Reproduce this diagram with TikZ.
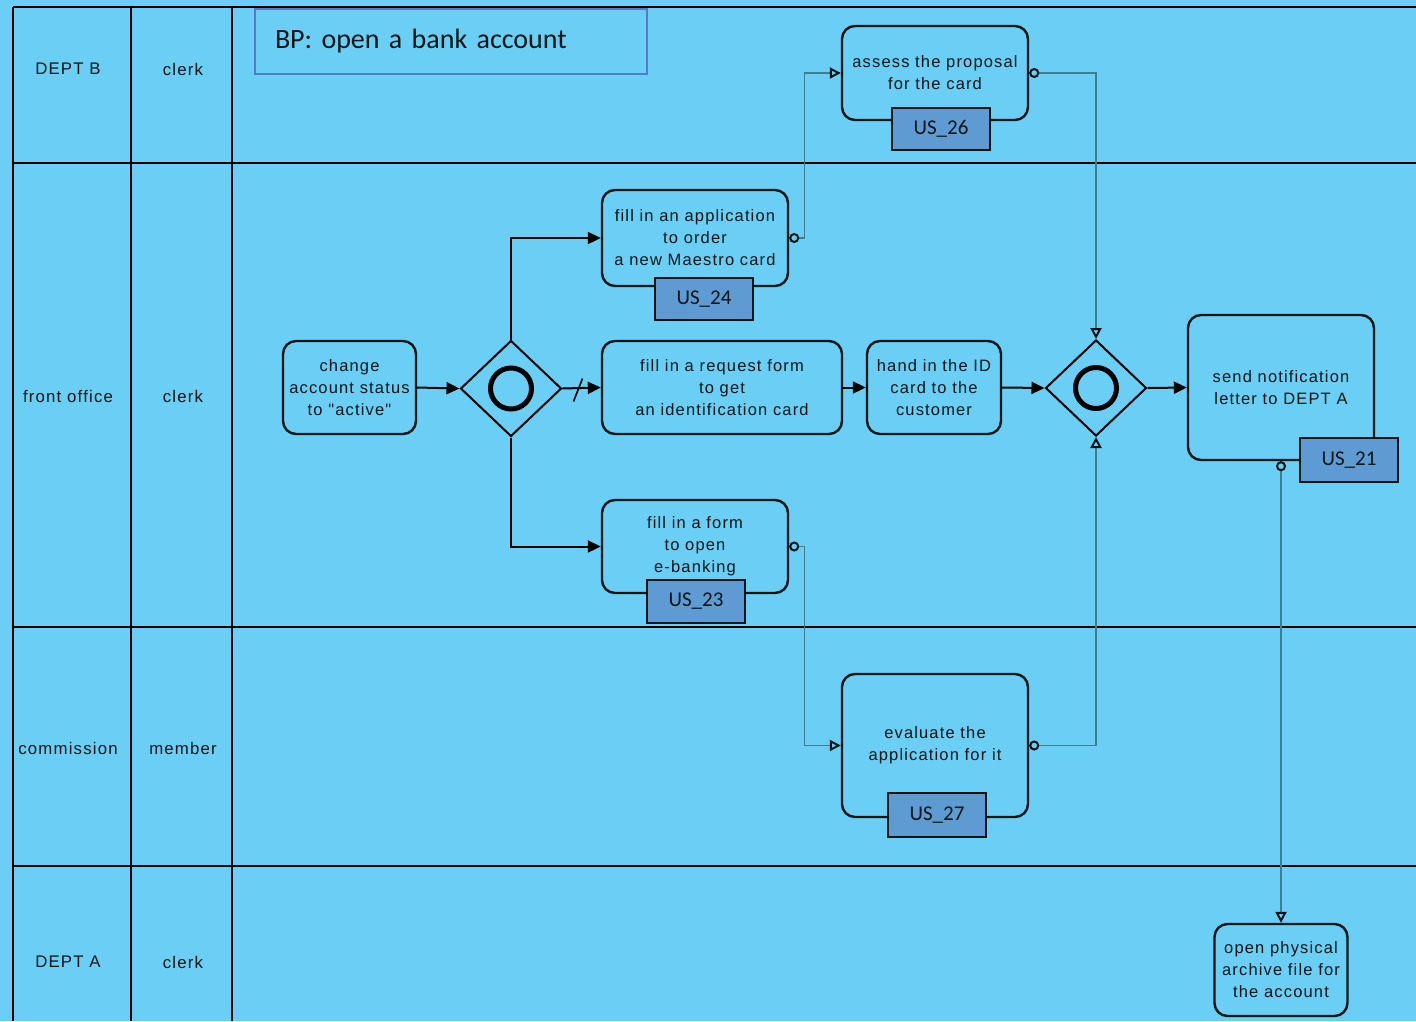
\documentclass[tikz,border=0pt]{standalone}
\usepackage{fontspec}
\setmainfont{Liberation Sans}
\newfontfamily\calfont{Carlito}
\newfontfamily\bpfont[LetterSpace=7]{Liberation Sans}
\usetikzlibrary{shapes.geometric,arrows.meta,calc}
\definecolor{poolbg}{HTML}{6BCFF5}
\definecolor{usfill}{HTML}{5E9BD3}
\definecolor{msgline}{HTML}{3C7E92}
\definecolor{ink}{HTML}{051414}
\definecolor{titleedge}{HTML}{4F7FC0}

\begin{document}
\begin{tikzpicture}[x=1pt,y=-1pt,
  lanerule/.style={line width=2.3pt, draw=black},
  lanelabel/.style={font=\bpfont\fontsize{16.8}{20}\selectfont, text=ink, inner sep=0pt},
  task/.style={draw=ink, line width=2.4pt, rounded corners=13pt, align=center,
    font=\bpfont\fontsize{16.5}{22}\selectfont, text=ink, inner sep=0pt},
  usbox/.style={draw=ink, line width=1.3pt, fill=usfill, inner sep=0pt,
    minimum width=98pt, minimum height=43pt, font=\calfont\fontsize{21}{24}\selectfont, text=ink},
  gateway/.style={diamond, draw=black, line width=2pt, inner sep=0pt,
    minimum width=101pt, minimum height=96pt,
    path picture={\draw[line width=5pt] (path picture bounding box.center) circle (20.5pt);}},
  seq/.style={line width=2pt, draw=black, -{Triangle[length=13pt,width=12pt]}},
  msg/.style={line width=1.2pt, draw=msgline,
    {Circle[open, length=10pt, line width=2pt, color=ink]}-{Triangle[open, length=11pt, width=11pt, line width=2pt, color=ink]}},
  slashmark/.style={line width=1.6pt, draw=black}
]
% canvas
\useasboundingbox (0,0) rectangle (1416,1021);
\fill[poolbg] (0,0) rectangle (1416,1021);

% pool and lane rules
\draw[lanerule] (13,7) -- (1416,7);
\draw[lanerule] (13,163) -- (1416,163);
\draw[lanerule] (13,627) -- (1416,627);
\draw[lanerule] (13,866) -- (1416,866);
\draw[lanerule] (13,7) -- (13,1021);
\draw[lanerule] (131,7) -- (131,1021);
\draw[lanerule] (232,7) -- (232,1021);

% lane headers
\node[lanelabel] (laneB) at (68,69) {DEPT B};
\node[lanelabel] (roleB) at (183,69) {clerk};
\node[lanelabel] (laneF) at (68,396) {front office};
\node[lanelabel] (roleF) at (183,396) {clerk};
\node[lanelabel] (laneC) at (68,748) {commission};
\node[lanelabel] (roleC) at (183,748) {member};
\node[lanelabel] (laneA) at (68,962) {DEPT A};
\node[lanelabel] (roleA) at (183,962) {clerk};

% title
\node[draw=titleedge, line width=2pt, text width=352pt, inner xsep=20pt, inner ysep=0pt,
  minimum height=65pt, align=left, font=\calfont\fontsize{28}{31}\selectfont, text=ink]
  (title) at (451,41.5) {BP: open a bank account\vphantom{p}\\[14pt]};

% activities
\node[task, minimum width=186pt, minimum height=94pt] (assess) at (935,73)
  {assess the proposal\\for the card};
\node[task, minimum width=186pt, minimum height=96pt] (app) at (695,238)
  {fill in an application\\to order\\a new Maestro card};
\node[task, minimum width=133pt, minimum height=93pt] (change) at (349.5,387.5)
  {change\\account status\\to "active"};
\node[task, minimum width=240pt, minimum height=93pt] (request) at (722,387.5)
  {fill in a request form\\to get\\an identification card};
\node[task, minimum width=134pt, minimum height=93pt] (handin) at (934,387.5)
  {hand in the ID\\card to the\\customer};
\node[task, minimum width=186pt, minimum height=145pt] (send) at (1281,387.5)
  {send notification\\letter to DEPT A};
\node[task, minimum width=186pt, minimum height=93pt] (form) at (695,546.5)
  {fill in a form\\to open\\e-banking};
\node[task, minimum width=186pt, minimum height=143pt] (eval) at (935,745.5)
  {evaluate the\\application for it};
\node[task, minimum width=133pt, minimum height=92pt] (archive) at (1281,970)
  {open physical\\archive file for\\the account};

% user story tags
\node[usbox, minimum height=42pt] (us26) at (941,129) {US\_26};
\node[usbox, minimum height=42pt] (us24) at (704,299) {US\_24};
\node[usbox, minimum height=44pt] (us21) at (1349,460) {US\_21};
\node[usbox] (us23) at (696,601.5) {US\_23};
\node[usbox, minimum height=44pt] (us27) at (937,815) {US\_27};

% gateways
\node[gateway] (g1) at (511,388.5) {};
\node[gateway] (g2) at (1096,388) {};

% sequence flows
\draw[seq] (change.east) -- (g1.west);
\draw[seq] (g1.north) |- (app.west);
\draw[seq] (g1.south) |- (form.west);
\draw[seq] (g1.east) -- (request.west);
\draw[slashmark] ($(g1.east)+(11,13)$) -- ($(g1.east)+(20,-10)$);
\draw[seq] (request.east) -- (handin.west);
\draw[seq] (handin.east) -- (g2.west);
\draw[seq] (g2.east) -- (send.west);

% message flows
\draw[msg] (app.east) -- ++(15,0) |- (assess.west);
\draw[msg] (assess.east) -| (g2.north);
\draw[msg] (form.east) -- ++(15,0) |- (eval.west);
\draw[msg] (eval.east) -| (g2.south);
\draw[msg] (send.south) -- (archive.north);
\end{tikzpicture}
\end{document}
